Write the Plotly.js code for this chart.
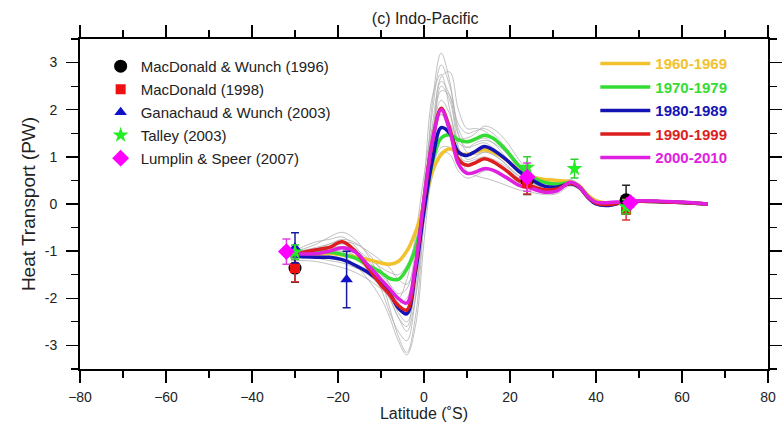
<!DOCTYPE html>
<html>
<head>
<meta charset="utf-8">
<script src="https://cdn.plot.ly/plotly-3.0.1.min.js"></script>
<style>html,body{margin:0;padding:0;background:#fff}#chart{width:783px;height:428px}</style>
</head>
<body>
<div id="chart"></div>
<script>
// Latitude grid (°) shared by all transport curves
const LAT = [-31,-28,-25,-22,-19,-16,-13,-10,-8,-6,-4,-2,0,2,4,6,8,10,12,14,16,19,22,25,28,31,34,36,38,40,43,46,50,55,60,66];

// Decadal mean heat transport (PW)
const DEC_NAMES = ['1960-1969','1970-1979','1980-1989','1990-1999','2000-2010'];
const DEC_COLORS = ['#f2c12e','#33dd33','#1414b4','#dc1e1e','#e020e0'];
const D1960 = [-1.08,-1.08,-1.07,-1.05,-1.08,-1.12,-1.18,-1.25,-1.28,-1.22,-1.0,-0.6,0.0,0.7,1.05,1.17,1.08,1.05,1.1,1.15,1.1,0.95,0.72,0.58,0.52,0.5,0.47,0.4,0.2,0.07,0.02,0.04,0.06,0.05,0.03,0.0];
const D1970 = [-1.08,-1.05,-1.03,-1.02,-1.07,-1.15,-1.3,-1.45,-1.58,-1.6,-1.38,-0.95,-0.1,0.9,1.4,1.47,1.36,1.32,1.38,1.46,1.4,1.15,0.82,0.58,0.46,0.42,0.45,0.38,0.17,0.03,0.0,0.03,0.06,0.05,0.03,0.0];
const D1980 = [-1.1,-1.12,-1.13,-1.13,-1.18,-1.3,-1.45,-1.68,-1.9,-2.2,-2.33,-1.45,-0.15,0.95,1.62,1.5,1.1,1.03,1.12,1.22,1.15,0.95,0.7,0.52,0.38,0.36,0.43,0.36,0.15,0.0,-0.03,0.03,0.06,0.05,0.03,0.0];
const D1990 = [-1.1,-1.02,-0.97,-0.92,-0.8,-1.0,-1.35,-1.72,-1.92,-2.15,-2.25,-1.35,0.1,1.35,2.03,1.6,0.95,0.82,0.88,0.96,0.9,0.72,0.5,0.38,0.3,0.32,0.44,0.37,0.16,0.02,-0.01,0.03,0.06,0.05,0.03,0.0];
const D2000 = [-1.05,-1.06,-1.05,-1.0,-0.93,-1.02,-1.3,-1.6,-1.8,-2.0,-2.1,-1.3,0.1,1.35,2.0,1.55,0.85,0.65,0.68,0.75,0.72,0.57,0.4,0.33,0.25,0.28,0.46,0.38,0.17,0.04,0.03,0.05,0.07,0.06,0.04,0.0];

// Individual-year curves (thin grey)
const Y01 = [-1.0,-0.95,-0.85,-0.7,-0.6,-0.75,-1.1,-1.6,-2.2,-2.8,-3.15,-2.4,-0.3,2.2,3.2,2.6,1.6,1.3,1.35,1.4,1.3,1.0,0.7,0.45,0.35,0.35,0.45,0.38,0.18,0.03,0.0,0.04,0.06,0.05,0.03,0.0];
const Y02 = [-1.05,-0.9,-0.8,-0.75,-0.7,-0.9,-1.3,-1.8,-2.3,-2.7,-2.9,-2.0,-0.1,2.0,2.95,2.5,1.7,1.5,1.55,1.6,1.5,1.2,0.85,0.6,0.45,0.4,0.5,0.42,0.2,0.05,0.01,0.05,0.07,0.05,0.03,0.0];
const Y03 = [-1.2,-1.2,-1.22,-1.28,-1.35,-1.45,-1.6,-1.8,-2.0,-2.4,-2.7,-2.0,-0.4,1.2,2.4,2.3,1.5,1.1,1.05,1.1,1.05,0.85,0.6,0.4,0.3,0.3,0.4,0.34,0.15,0.01,-0.03,0.02,0.05,0.04,0.02,0.0];
const Y04 = [-1.0,-1.0,-0.95,-0.9,-0.85,-0.95,-1.15,-1.35,-1.45,-1.5,-1.3,-0.8,0.0,0.8,1.2,1.2,1.0,0.9,0.95,1.0,0.95,0.8,0.6,0.5,0.45,0.45,0.48,0.4,0.2,0.06,0.02,0.05,0.06,0.05,0.03,0.0];
const Y05 = [-1.15,-1.1,-1.05,-1.0,-1.0,-1.1,-1.3,-1.6,-1.9,-2.3,-2.5,-1.8,-0.2,1.4,2.5,2.2,1.2,0.7,0.6,0.55,0.5,0.4,0.3,0.25,0.2,0.22,0.38,0.32,0.14,0.0,-0.02,0.03,0.05,0.04,0.02,0.0];
const Y06 = [-1.1,-1.05,-1.0,-0.95,-0.9,-1.0,-1.2,-1.5,-1.7,-1.9,-1.8,-1.0,0.3,1.6,2.2,1.9,1.3,1.2,1.3,1.35,1.3,1.1,0.8,0.6,0.5,0.45,0.52,0.42,0.2,0.05,0.01,0.05,0.07,0.06,0.03,0.0];
const Y07 = [-1.15,-1.15,-1.1,-1.05,-1.1,-1.3,-1.6,-2.0,-2.4,-2.9,-3.2,-2.6,-0.8,1.0,2.7,2.8,2.0,1.6,1.6,1.55,1.4,1.1,0.75,0.5,0.4,0.38,0.45,0.38,0.17,0.02,-0.01,0.04,0.06,0.05,0.03,0.0];
const Y08 = [-1.0,-0.98,-0.92,-0.85,-0.8,-0.85,-1.0,-1.2,-1.35,-1.6,-1.7,-1.3,-0.4,0.6,1.1,1.05,0.7,0.55,0.6,0.7,0.72,0.6,0.45,0.35,0.3,0.3,0.42,0.36,0.16,0.02,0.0,0.04,0.06,0.05,0.03,0.0];
const Y09 = [-1.05,-1.0,-0.95,-0.9,-0.95,-1.1,-1.35,-1.7,-2.0,-2.4,-2.6,-1.5,0.4,2.3,2.75,2.0,1.2,0.95,1.0,1.1,1.05,0.85,0.55,0.4,0.32,0.3,0.42,0.35,0.15,0.01,-0.02,0.03,0.05,0.05,0.03,0.0];
const Y10 = [-1.1,-1.05,-1.0,-0.98,-1.02,-1.15,-1.4,-1.6,-1.8,-2.1,-2.0,-1.2,0.2,1.5,1.9,1.7,1.4,1.4,1.5,1.65,1.6,1.35,0.95,0.65,0.5,0.45,0.5,0.42,0.2,0.05,0.01,0.05,0.07,0.06,0.03,0.0];
const Y11 = [-1.08,-1.02,-0.95,-0.85,-0.75,-0.82,-1.05,-1.4,-1.7,-2.1,-2.3,-1.6,-0.1,1.7,2.6,2.3,1.45,1.2,1.25,1.3,1.2,0.95,0.65,0.45,0.35,0.33,0.44,0.37,0.17,0.02,0.0,0.04,0.06,0.05,0.03,0.0];
const Y12 = [-1.12,-1.12,-1.15,-1.2,-1.25,-1.35,-1.5,-1.75,-1.9,-2.0,-1.6,-0.7,0.6,1.6,1.9,1.5,1.0,0.85,0.9,0.95,0.9,0.75,0.55,0.45,0.38,0.38,0.47,0.39,0.18,0.03,0.0,0.04,0.06,0.05,0.03,0.0];

// Observational estimates: latitude, value, error (PW)
const MW96_LAT = [-30, 24, 47],  MW96_VAL = [-1.36, 0.50, 0.09],  MW96_ERR = [0.3, 0.3, 0.31];
const M98_LAT  = [-30, 24, 47],  M98_VAL  = [-1.36, 0.44, -0.12], M98_ERR  = [0.29, 0.23, 0.22];
const GW03_LAT = [-30, -18],     GW03_VAL = [-0.93, -1.60],       GW03_ERR = [0.32, 0.6];
const T03_LAT  = [-30, 24, 35, 47], T03_VAL = [-1.02, 0.78, 0.75, -0.06], T03_ERR = [0.15, 0.22, 0.2, 0.15];
const LS07_LAT = [-32, 24, 48],  LS07_VAL = [-1.01, 0.57, 0.03],  LS07_ERR = [0.27, 0.3, 0.1];

// Axis tick labels
const Y_TICKS = [-3,-2,-1,0,1,2,3];
const Y_LABELS = ['-3','-2','-1','0','1','2','3'];

const FONT = 'Liberation Sans, Arial, Helvetica, sans-serif';
const NB = '\u00a0';
const traces = [];

[Y01,Y02,Y03,Y04,Y05,Y06,Y07,Y08,Y09,Y10,Y11,Y12].forEach(function(v){
  traces.push({x: LAT, y: v, type: 'scatter', mode: 'lines', showlegend: false, hoverinfo: 'skip',
    line: {color: '#b0b0b0', width: 0.8, shape: 'spline', smoothing: 1}});
});

[D1960, D1970, D1980, D1990, D2000].forEach(function(v, i){
  traces.push({x: LAT, y: v, type: 'scatter', mode: 'lines', legend: 'legend2', legendgroup: 'd' + i,
    name: '<b><span style="color:' + DEC_COLORS[i] + '">' + DEC_NAMES[i] + '</span></b>',
    line: {color: DEC_COLORS[i], width: 3.5, shape: 'spline', smoothing: 1}});
});

function obs(name, xs, ys, es, symbol, color, size, ecolor, group) {
  return {x: xs, y: ys, type: 'scatter', mode: 'markers', name: name, legend: 'legend', legendgroup: group,
    marker: {symbol: symbol, color: color, size: size, line: {width: 0}},
    error_y: {type: 'data', array: es, visible: true, color: ecolor, thickness: 1.5, width: 4}};
}
traces.push(obs('MacDonald &amp; Wunch (1996)', MW96_LAT, MW96_VAL, MW96_ERR, 'circle', '#000000', 13, '#222222', 'o1'));
traces.push(obs('MacDonald (1998)', M98_LAT, M98_VAL, M98_ERR, 'square', '#ee1111', 10, '#dd3333', 'o2'));
traces.push(obs('Ganachaud &amp; Wunch (2003)', GW03_LAT, GW03_VAL, GW03_ERR, 'triangle-up', '#1010c8', 11, '#1a1aa0', 'o3'));
traces.push(obs('Talley (2003)', T03_LAT, T03_VAL, T03_ERR, 'star', '#22ee22', 12, '#33cc33', 'o4'));
traces.push(obs('Lumplin &amp; Speer (2007)', LS07_LAT, LS07_VAL, LS07_ERR, 'diamond', '#ff00ff', 13, '#e040e0', 'o5'));

const axisCommon = {
  showline: true, linecolor: '#000', linewidth: 2, mirror: 'ticks',
  ticks: 'outside', ticklen: 12, tickwidth: 1.5, tickcolor: '#000',
  showgrid: false, zeroline: false,
  tickfont: {family: FONT, size: 14, color: '#222'}
};

const layout = {
  width: 783, height: 428,
  margin: {l: 80, r: 15, t: 39, b: 59, pad: 0},
  paper_bgcolor: '#fff', plot_bgcolor: '#fff',
  font: {family: FONT, color: '#222'},
  showlegend: true,
  title: {text: '(c) Indo-Pacific', font: {family: FONT, size: 16, color: '#222'}, x: 0.543, xanchor: 'center', y: 0.958, yanchor: 'middle'},
  xaxis: Object.assign({}, axisCommon, {
    range: [-80, 80], tickmode: 'linear', tick0: -80, dtick: 20, ticklabelstandoff: 2,
    minor: {dtick: 10, ticks: 'outside', ticklen: 7, tickwidth: 1.2, tickcolor: '#000'},
    title: {text: 'Latitude (˚S)', font: {family: FONT, size: 16, color: '#222'}, standoff: 4}
  }),
  yaxis: Object.assign({}, axisCommon, {
    range: [-3.5, 3.5], tickmode: 'array', tickvals: Y_TICKS, ticktext: Y_LABELS, ticklabelstandoff: 6,
    minor: {dtick: 0.5, tick0: 0, ticks: 'outside', ticklen: 7, tickwidth: 1.2, tickcolor: '#000'},
    title: {text: NB.repeat(5) + 'Heat Transport (PW)', font: {family: FONT, size: 19, color: '#222'}, standoff: 4}
  }),
  legend: {x: 0.03, xanchor: 'left', y: 0.967, yanchor: 'top', bgcolor: 'rgba(0,0,0,0)',
    font: {family: FONT, size: 15, color: '#222'}, tracegroupgap: 0.5, itemsizing: 'trace'},
  legend2: {x: 0.749, xanchor: 'left', y: 0.975, yanchor: 'top', bgcolor: 'rgba(0,0,0,0)',
    font: {family: FONT, size: 15}, tracegroupgap: 1, itemwidth: 50},
  hovermode: false
};

Plotly.newPlot('chart', traces, layout, {displayModeBar: false, staticPlot: true});
</script>
</body>
</html>
